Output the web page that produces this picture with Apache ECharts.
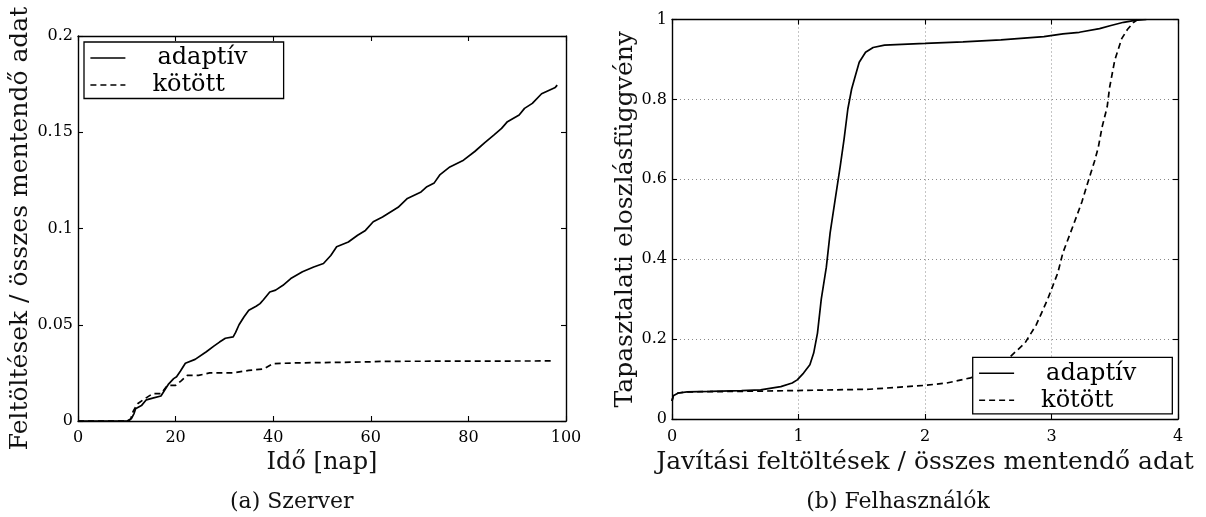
<!DOCTYPE html>
<html><head><meta charset="utf-8">
<script src="https://cdn.jsdelivr.net/npm/echarts@6/dist/echarts.min.js"></script>
<style>html,body{margin:0;padding:0;background:#fff}#c{width:1206px;height:517px}</style>
</head><body><div id="c"></div>
<script>
// ---- data ----
const seriesNames = ['adaptív', 'kötött'];
const captions = ['(a) Szerver', '(b) Felhasználók'];
const serverXName = 'Idő [nap]';
const serverYName = 'Feltöltések / összes mentendő adat';
const userXName = 'Javítási feltöltések / összes mentendő adat';
const userYName = 'Tapasztalati eloszlásfüggvény';

const serverDays = [0,5,10,10.5,11,11.5,11.8,13,14,15.5,17,18,18.5,19.6,20.2,21,22,24,26.3,27.9,29,30.2,31.8,32.3,33,34,35,36.5,37.3,38,39.3,40.5,42,43.6,46,48.3,50.3,51.8,53,55.4,57.3,58.9,60.5,62.4,65.6,67.5,70.3,71.5,73,74.2,76.2,79,81.3,83.3,85.2,86.8,88,90.4,91.5,93.1,95,97.8,98.2];
const serverAdaptive = [0,0,0,0.0003,0.0015,0.004,0.0064,0.008,0.011,0.012,0.013,0.017,0.019,0.022,0.023,0.026,0.030,0.032,0.036,0.039,0.041,0.043,0.0437,0.046,0.050,0.054,0.0575,0.0596,0.061,0.063,0.067,0.068,0.0705,0.074,0.0775,0.080,0.0818,0.086,0.0905,0.093,0.0965,0.099,0.1035,0.106,0.111,0.1156,0.119,0.1217,0.1237,0.128,0.132,0.1355,0.140,0.1445,0.1485,0.152,0.1555,0.159,0.1624,0.165,0.170,0.1733,0.1745];
const serverFixedDays = [0,10,10.8,11.3,12.2,13.7,15.3,17,18.3,20,21.2,22.4,24.7,27,31.8,35,38,40,45,54.6,59.3,62.4,97];
const serverFixed = [0,0,0.001,0.005,0.009,0.0116,0.0142,0.0142,0.0185,0.0185,0.021,0.0237,0.0237,0.025,0.025,0.0263,0.027,0.0298,0.0302,0.0305,0.0307,0.031,0.0312];

const userAdaptiveX = [0,0.01,0.05,0.12,0.3,0.55,0.7,0.86,0.95,0.99,1.04,1.09,1.12,1.15,1.18,1.22,1.25,1.29,1.33,1.36,1.39,1.42,1.45,1.48,1.53,1.59,1.68,2.0,2.3,2.6,2.94,3.09,3.22,3.38,3.47,3.57,3.66,3.75];
const userAdaptive = [0.045,0.058,0.065,0.068,0.069,0.071,0.073,0.081,0.09,0.098,0.115,0.136,0.165,0.215,0.30,0.38,0.466,0.55,0.633,0.70,0.776,0.826,0.86,0.893,0.918,0.93,0.936,0.94,0.944,0.949,0.957,0.964,0.968,0.977,0.985,0.993,0.998,1.0];
const userFixedX = [0,0.01,0.05,0.12,0.5,0.95,1.56,1.99,2.17,2.36,2.51,2.66,2.79,2.88,2.97,3.05,3.09,3.17,3.24,3.28,3.31,3.34,3.37,3.40,3.44,3.46,3.50,3.555,3.60,3.65,3.68];
const userFixed = [0.045,0.058,0.065,0.068,0.069,0.071,0.0745,0.084,0.09,0.103,0.123,0.152,0.19,0.236,0.30,0.366,0.416,0.483,0.543,0.585,0.615,0.645,0.68,0.731,0.781,0.831,0.898,0.952,0.975,0.993,1.0];

const serverXRange = {min: 0, max: 100, interval: 20};
const serverYRange = {min: 0, max: 0.2, interval: 0.05};
const userXRange = {min: 0, max: 4, interval: 1};
const userYRange = {min: 0, max: 1, interval: 0.2};

// ---- chart ----
const FONT = 'DejaVu Serif';
const pairs = (xs, ys) => xs.map((x, i) => [x, ys[i]]);

function axis(grid, pos, range, opts) {
  const main = pos === 'bottom' || pos === 'left';
  return Object.assign({
    gridIndex: grid, type: 'value', position: pos,
    min: range.min, max: range.max, interval: range.interval,
    axisLine: {show: true, onZero: false, lineStyle: {color: '#000', width: 1.4}},
    axisTick: {show: true, inside: true, length: 5, lineStyle: {color: '#000', width: 1.1}},
    axisLabel: {show: main, color: '#000', fontFamily: FONT, fontSize: 16},
    splitLine: {show: false}
  }, opts || {});
}
const dotted = {show: true, lineStyle: {color: '#8a8a8a', width: 1, type: [1, 3]}};
const nameStyle = (fs) => ({fontFamily: FONT, fontSize: fs, lineHeight: fs, color: '#111'});

function legendAt(left, top) {
  return {
    left: left, top: top, orient: 'vertical',
    itemWidth: 35, itemHeight: 14, itemGap: 3,
    padding: [4, 36, 1.5, 5.6],
    borderColor: '#000', borderWidth: 1.3, backgroundColor: '#fff',
    selectedMode: false,
    itemStyle: {opacity: 0, borderWidth: 0},
    lineStyle: {width: 1.6},
    textStyle: {fontFamily: FONT, fontSize: 24, lineHeight: 24, color: '#000'},
    data: [
      {name: seriesNames[0], textStyle: {padding: [0, 0, 0, 27]}},
      {name: seriesNames[1], textStyle: {padding: [0, 0, 0, 22]}}
    ]
  };
}
function line(name, xi, data, dashed) {
  return {
    type: 'line', name: name, xAxisIndex: xi, yAxisIndex: xi, data: data,
    showSymbol: false, symbol: 'none', smooth: false,
    lineStyle: {color: '#000', width: 1.7, type: dashed ? [6, 4] : 'solid'},
    itemStyle: {color: '#000'}, z: 3
  };
}

const chart = echarts.init(document.getElementById('c'));
chart.setOption({
  animation: false,
  backgroundColor: '#fff',
  textStyle: {fontFamily: FONT},
  grid: [
    {left: 78, top: 36, width: 488, height: 385},
    {left: 672, top: 19.5, width: 506, height: 399.5}
  ],
  xAxis: [
    axis(0, 'bottom', serverXRange, {axisLabel: {color: '#000', fontFamily: FONT, fontSize: 16, margin: 9},
      name: serverXName, nameLocation: 'middle', nameGap: 26, nameTextStyle: nameStyle(24)}),
    axis(0, 'top', serverXRange),
    axis(1, 'bottom', userXRange, {axisLabel: {color: '#000', fontFamily: FONT, fontSize: 16, margin: 10},
      splitLine: dotted,
      name: userXName, nameLocation: 'middle', nameGap: 22, nameTextStyle: nameStyle(25)}),
    axis(1, 'top', userXRange)
  ],
  yAxis: [
    axis(0, 'left', serverYRange, {axisLabel: {color: '#000', fontFamily: FONT, fontSize: 16, margin: 5},
      name: serverYName, nameLocation: 'middle', nameGap: 39, nameTextStyle: nameStyle(25)}),
    axis(0, 'right', serverYRange),
    axis(1, 'left', userYRange, {axisLabel: {color: '#000', fontFamily: FONT, fontSize: 16, margin: 5},
      splitLine: dotted,
      name: userYName, nameLocation: 'middle', nameGap: 33.5, nameTextStyle: nameStyle(25)}),
    axis(1, 'right', userYRange)
  ],
  legend: [legendAt(84, 42), legendAt(972.7, 357.3)],
  title: [
    {text: captions[0], left: 291.7, top: 491, textAlign: 'center', padding: 0,
      textStyle: {fontFamily: FONT, fontSize: 22, lineHeight: 22, fontWeight: 'normal', color: '#111'}},
    {text: captions[1], left: 898, top: 491, textAlign: 'center', padding: 0,
      textStyle: {fontFamily: FONT, fontSize: 22, lineHeight: 22, fontWeight: 'normal', color: '#111'}}
  ],
  series: [
    line(seriesNames[0], 0, pairs(serverDays, serverAdaptive), false),
    line(seriesNames[1], 0, pairs(serverFixedDays, serverFixed), true),
    line(seriesNames[0], 2, pairs(userAdaptiveX, userAdaptive), false),
    line(seriesNames[1], 2, pairs(userFixedX, userFixed), true)
  ]
});
</script></body></html>
